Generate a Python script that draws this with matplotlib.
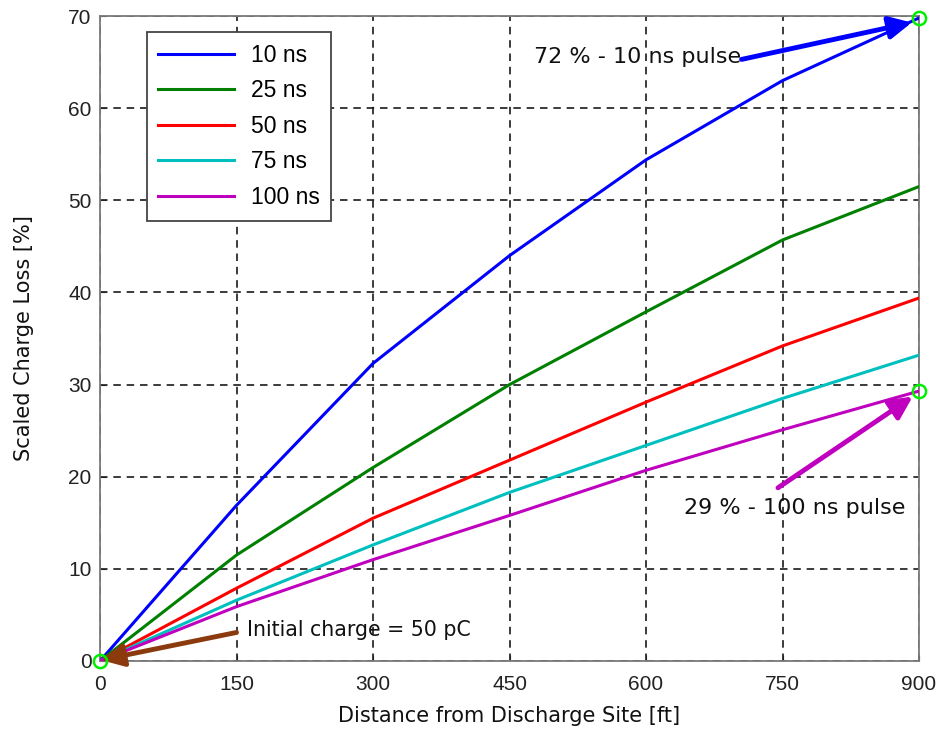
import matplotlib
matplotlib.use("Agg")
import matplotlib.pyplot as plt

# Distance from discharge site [ft]
distance = [0, 150, 300, 450, 600, 750, 900]

# Scaled charge loss [%] per pulse width
loss_10ns = [0, 16.9, 32.3, 44.0, 54.4, 63.0, 69.8]
loss_25ns = [0, 11.5, 21.0, 30.0, 37.9, 45.7, 51.5]
loss_50ns = [0, 7.9, 15.5, 21.8, 28.1, 34.2, 39.4]
loss_75ns = [0, 6.6, 12.6, 18.3, 23.4, 28.5, 33.2]
loss_100ns = [0, 5.9, 11.0, 15.8, 20.7, 25.1, 29.3]

series_labels = ["10 ns", "25 ns", "50 ns", "75 ns", "100 ns"]
series_colors = ["#0000ff", "#008000", "#ff0000", "#00bfbf", "#bf00bf"]

x_ticks = [0, 150, 300, 450, 600, 750, 900]
y_ticks = [0, 10, 20, 30, 40, 50, 60, 70]

fig = plt.figure(figsize=(9.4, 7.32), dpi=100)
ax = fig.add_axes([0.1064, 0.097, 0.8713, 0.881])

series = [loss_10ns, loss_25ns, loss_50ns, loss_75ns, loss_100ns]
for vals, lab, col in zip(series, series_labels, series_colors):
    ax.plot(distance, vals, color=col, lw=2.2, label=lab, zorder=3)

ax.set_xlim(0, 900)
ax.set_ylim(0, 70)
ax.set_xticks(x_ticks)
ax.set_yticks(y_ticks)
ax.tick_params(direction="in", length=4, labelsize=15, colors="#222222")
ax.tick_params(axis="x", pad=10)
ax.tick_params(axis="y", pad=6)
for lbl in ax.get_xticklabels() + ax.get_yticklabels():
    lbl.set_family("Liberation Sans")
ax.grid(True, color="#1a1a1a", linestyle=(0, (4.5, 3.5)), lw=1.2)
for sp in ax.spines.values():
    sp.set_color("#7a7a7a")
    sp.set_linewidth(1.3)

ax.set_xlabel("Distance from Discharge Site [ft]", fontsize=15, color="#111111")
ax.set_ylabel("Scaled Charge Loss [%]", fontsize=15, color="#111111")
ax.xaxis.set_label_coords(0.5, -0.07)
ax.yaxis.set_label_coords(-0.081, 0.5)

leg = ax.legend(loc="upper left", bbox_to_anchor=(0.0574, 0.975),
                borderaxespad=0, handlelength=3.3, handletextpad=0.72,
                labelspacing=0.55, borderpad=0.5, fancybox=False,
                framealpha=1, edgecolor="#444444",
                prop={"family": "Liberation Sans", "size": 16.5})
leg.get_frame().set_linewidth(1.3)

# Highlighted points
marks_x = [0, 900, 900]
marks_y = [0, loss_10ns[-1], loss_100ns[-1]]
ax.plot(marks_x, marks_y, linestyle="none", marker="o", ms=9.5, mfc="none",
        mec="#00ee00", mew=1.8, zorder=5, clip_on=False)

arrow_kw = dict(arrowstyle="-|>", lw=3.5, mutation_scale=34, shrinkA=0, shrinkB=0)

# Annotations
ax.annotate("", xy=(892, 69.3), xytext=(705, 65.3), annotation_clip=False,
            arrowprops=dict(color="#0000ff", **arrow_kw))
ax.text(704, 65.6, "72 % - 10 ns pulse", fontsize=16, ha="right", va="center",
        color="#111111")

ax.annotate("", xy=(893, 28.7), xytext=(745, 18.8), annotation_clip=False,
            arrowprops=dict(color="#bf00bf", **arrow_kw))
ax.text(763, 16.6, "29 % - 100 ns pulse", fontsize=16, ha="center", va="center",
        color="#111111")

ax.annotate("", xy=(1, 0.1), xytext=(150, 3.1), annotation_clip=False,
            arrowprops=dict(color="#8b3a0e", **arrow_kw))
ax.text(161, 3.4, "Initial charge = 50 pC", fontsize=14.8, ha="left", va="center",
        color="#111111")

fig.savefig("out.png", dpi=100)
